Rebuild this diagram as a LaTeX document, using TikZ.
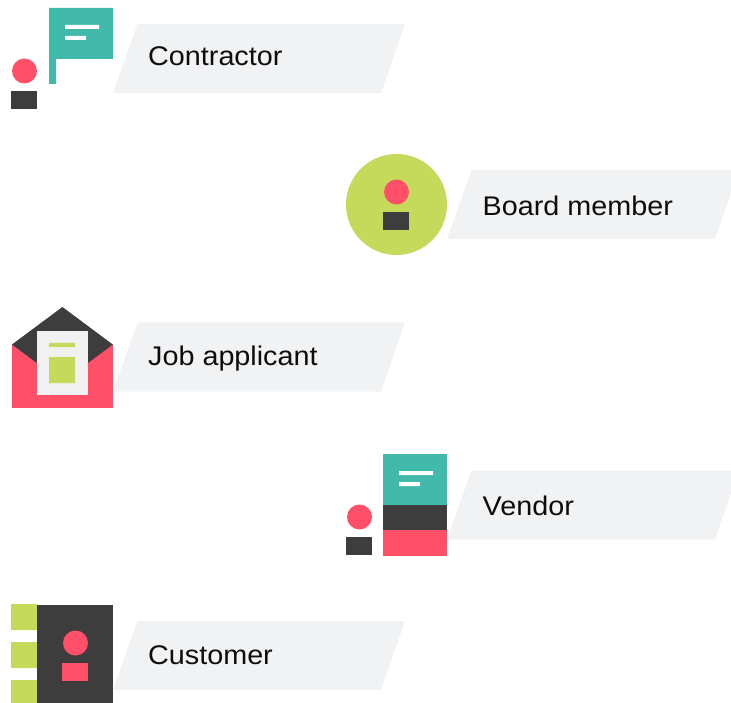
\documentclass[tikz,border=0pt]{standalone}
\usepackage{fontspec}
\setmainfont[FakeStretch=1.065]{Liberation Sans}
\definecolor{teal}{HTML}{41B9AB}
\definecolor{coral}{HTML}{FF4F69}
\definecolor{ink}{HTML}{3D3D3D}
\definecolor{lime}{HTML}{C5D95A}
\definecolor{band}{HTML}{F1F2F4}
\definecolor{paper}{HTML}{F1F1F1}
\tikzset{
  lbl/.style={anchor=base west,inner sep=0pt,font=\fontsize{27}{30}\selectfont,text=black!95},
}
\newcommand{\bandat}[2]{\fill[band] (#1+24.5,#2) -- (#1+292,#2) -- (#1+268,#2+69) -- (#1,#2+69) -- cycle;}
\newcommand{\personat}[4]{\fill[#3] (#1+13.5,#2) circle (12.5);\fill[#4] (#1,#2+20) rectangle (#1+26,#2+38);}
\begin{document}
\begin{tikzpicture}[x=1pt,y=-1pt]
\useasboundingbox (0,0) rectangle (731,703);
\begin{scope}
\clip (0,0) rectangle (731,703);
\bandat{113}{24}
\bandat{447}{170}
\bandat{113}{322.5}
\bandat{447}{470.5}
\bandat{113}{621}
\end{scope}
% contractor
\fill[teal] (49,8) -- (113,8) -- (113,59) -- (56,59) -- (56,84) -- (49,84) -- cycle;
\fill[white] (65,25) rectangle (99,29) (65,36) rectangle (86,40);
\personat{11}{71}{coral}{ink}
% board
\fill[lime] (396.5,204.5) circle (50.5);
\personat{383}{192}{coral}{ink}
% job
\fill[coral] (12,344.5) -- (112.8,344.5) -- (112.8,407.5) -- (12,407.5) -- cycle;
\fill[ink] (62.4,307) -- (112.8,344.5) -- (62.4,382) -- (12,344.5) -- cycle;
\fill[paper] (37,331) rectangle (88,395);
\fill[lime] (49,343) rectangle (75,347) (49,357) rectangle (75,383);
% vendor
\fill[teal] (383,454) rectangle (447,505);
\fill[ink] (383,505) rectangle (447,530);
\fill[coral] (383,530) rectangle (447,556);
\fill[white] (399,471) rectangle (433,475) (399,482) rectangle (420,486);
\personat{346}{517}{coral}{ink}
% customer
\fill[lime] (11,604) rectangle (37,630) (11,642) rectangle (37,668) (11,680) rectangle (37,703);
\fill[ink] (37,605) rectangle (113,703);
\personat{62}{643}{coral}{coral}
% labels
\node[lbl] (contractor) at (148,66) {Contractor};
\node[lbl] (board) at (482.5,216) {Board member};
\node[lbl] (job) at (148,365) {Job applicant};
\node[lbl] (vendor) at (482.5,515) {Vendor};
\node[lbl] (customer) at (148,664) {Customer};
\end{tikzpicture}
\end{document}
